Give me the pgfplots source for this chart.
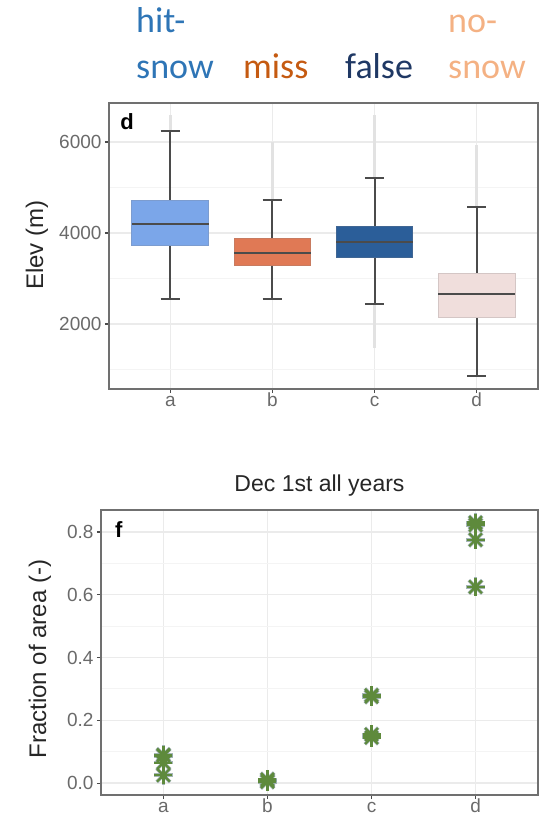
\documentclass[border=0pt]{standalone}
\usepackage{fontspec}
\setmainfont{Liberation Sans}
\newfontfamily\headfont{Carlito}
\usepackage{pgfplots}
\usepackage{pgfplotstable}
\pgfplotsset{compat=1.18}

\definecolor{hitcol}{HTML}{2E75B6}
\definecolor{misscol}{HTML}{C55A11}
\definecolor{falsecol}{HTML}{1F3864}
\definecolor{nosnowcol}{HTML}{F4B183}
\definecolor{boxa}{HTML}{7BA6E9}
\definecolor{boxb}{HTML}{E07955}
\definecolor{boxc}{HTML}{2B5E99}
\definecolor{boxd}{HTML}{F0DEDC}
\definecolor{whisk}{HTML}{4B4B4B}
\definecolor{ticktext}{HTML}{6A6A6A}
\definecolor{framecol}{HTML}{707070}
\definecolor{gridmaj}{HTML}{EBEBEB}
\definecolor{gridmin}{HTML}{F4F4F4}
\definecolor{outl}{HTML}{E2E2E2}
\definecolor{starhalo}{HTML}{8EA4A6}
\definecolor{stargreen}{HTML}{5E8A3C}

% fraction of snow-covered area per class, one row per year
\pgfplotstableread{
cat frac
1 0.090
1 0.087
1 0.065
1 0.025
2 0.012
2 0.008
2 0.004
3 0.280
3 0.275
3 0.155
3 0.145
4 0.830
4 0.822
4 0.775
4 0.625
}\fracdata

\pgfplotsset{
  panel/.style={
    scale only axis,
    xmin=0.4, xmax=4.6,
    xtick={1,2,3,4},
    xticklabels={a,b,c,d},
    xtick pos=bottom, ytick pos=left,
    xmajorgrids, ymajorgrids, yminorgrids,
    major grid style={draw=gridmaj, line width=1.4pt},
    minor grid style={draw=gridmin, line width=0.9pt},
    axis line style={draw=framecol, line width=1.2pt},
    tick align=outside,
    major tick length=4pt,
    minor tick length=0pt,
    major tick style={draw=whisk, line width=1.1pt},
    tick label style={font=\fontsize{19}{19}\selectfont, text=ticktext},
    xticklabel style={text height=0.72em, text depth=0pt, yshift=-3pt},
    clip=false,
    unbounded coords=jump,
  },
  ylab/.style={every axis y label/.style={at={(axis description cs:#1)}, rotate=90,
    anchor=center, font=\fontsize{24}{24}\selectfont, text=black!85}},
  whisker/.style={draw=whisk, line width=2pt, forget plot},
  median/.style={draw=whisk, line width=2pt, forget plot},
  outlier/.style={draw=outl, line width=3pt, forget plot},
}

\begin{document}
\begin{tikzpicture}
\useasboundingbox (0pt,0pt) rectangle (548pt,830pt);

% upper panel: elevation distribution of each class
\begin{axis}[panel,
  at={(109pt,441pt)}, anchor=south west,
  width=429pt, height=286pt,
  ymin=571, ymax=6857,
  ytick={2000,4000,6000},
  yticklabels={2000,4000,6000},
  minor ytick={1000,3000,5000},
  ylabel={Elev (m)},
  ylab={-0.168,0.503},
]
  % outlying elevations beyond the whiskers
  \addplot[outlier] coordinates {(1,6260) (1,6593)};
  \addplot[outlier] coordinates {(2,4740) (2,6000)};
  \addplot[outlier] coordinates {(3,5220) (3,6593)};
  \addplot[outlier] coordinates {(3,2420) (3,1474)};
  \addplot[outlier] coordinates {(4,4580) (4,5934)};

  % whiskers with caps
  \addplot[whisker] coordinates {(1,4723) (1,6241) (nan,nan) (0.905,6241) (1.095,6241) (nan,nan)
    (1,3723) (1,2555) (nan,nan) (0.905,2555) (1.095,2555)};
  \addplot[whisker] coordinates {(2,3869) (2,4723) (nan,nan) (1.905,4723) (2.095,4723) (nan,nan)
    (2,3285) (2,2540) (nan,nan) (1.905,2540) (2.095,2540)};
  \addplot[whisker] coordinates {(3,4153) (3,5205) (nan,nan) (2.905,5205) (3.095,5205) (nan,nan)
    (3,3467) (3,2438) (nan,nan) (2.905,2438) (3.095,2438)};
  \addplot[whisker] coordinates {(4,3102) (4,4562) (nan,nan) (3.905,4562) (4.095,4562) (nan,nan)
    (4,2146) (4,847) (nan,nan) (3.905,847) (4.095,847)};

  % interquartile boxes
  \addplot[fill=boxa, draw=boxa!75!gray, line width=1pt, forget plot]
    coordinates {(0.625,3723) (1.375,3723) (1.375,4723) (0.625,4723)} --cycle;
  \addplot[fill=boxb, draw=boxb!75!gray, line width=1pt, forget plot]
    coordinates {(1.625,3285) (2.375,3285) (2.375,3869) (1.625,3869)} --cycle;
  \addplot[fill=boxc, draw=boxc!75!gray, line width=1pt, forget plot]
    coordinates {(2.625,3467) (3.375,3467) (3.375,4153) (2.625,4153)} --cycle;
  \addplot[fill=boxd, draw=boxd!75!gray, line width=1pt, forget plot]
    coordinates {(3.625,2146) (4.375,2146) (4.375,3102) (3.625,3102)} --cycle;

  % medians
  \addplot[median] coordinates {(0.625,4197) (1.375,4197)};
  \addplot[median] coordinates {(1.625,3555) (2.375,3555)};
  \addplot[median] coordinates {(2.625,3796) (3.375,3796)};
  \addplot[median] coordinates {(3.625,2664) (4.375,2664)};

  \node[anchor=base west, inner sep=0, font=\fontsize{22}{22}\selectfont\bfseries]
    at (rel axis cs:0.026,0.909) {d};
\end{axis}

% lower panel: fraction of area on 1 December of every year
\begin{axis}[panel,
  at={(101pt,35pt)}, anchor=south west,
  width=437pt, height=285pt,
  ymin=-0.038, ymax=0.87,
  ytick={0,0.2,0.4,0.6,0.8},
  yticklabels={0.0,0.2,0.4,0.6,0.8},
  minor ytick={0.1,0.3,0.5,0.7},
  ylabel={Fraction of area (-)},
  ylab={-0.140,0.477},
  title={Dec 1st all years},
  title style={at={(axis description cs:0.5,1)}, anchor=base, yshift=12pt,
    font=\fontsize{23}{23}\selectfont, text=black!85, inner sep=0pt},
]
  \addplot[only marks, mark=+, mark size=9.5pt, draw=starhalo, opacity=0.8,
    mark options={line width=3.6pt}] table[x=cat, y=frac] {\fracdata};
  \addplot[only marks, mark=x, mark size=9.5pt, draw=starhalo, opacity=0.8,
    mark options={line width=3.6pt}] table[x=cat, y=frac] {\fracdata};
  \addplot[only marks, mark=+, mark size=9pt, draw=stargreen,
    mark options={line width=2.2pt}] table[x=cat, y=frac] {\fracdata};
  \addplot[only marks, mark=x, mark size=9pt, draw=stargreen,
    mark options={line width=2.2pt}] table[x=cat, y=frac] {\fracdata};
  \addplot[only marks, mark=*, mark size=3.5pt,
    mark options={draw=stargreen, fill=stargreen, line width=0pt}]
    table[x=cat, y=frac] {\fracdata};

  \node[anchor=base west, inner sep=0, font=\fontsize{22}{22}\selectfont\bfseries]
    at (rel axis cs:0.032,0.905) {f};
\end{axis}

% class names above the panels
\begin{scope}[every node/.style={anchor=base west, inner sep=0,
    font=\headfont\fontsize{36}{36}\selectfont}]
  \node[text=hitcol] at (136pt,797pt) {hit-};
  \node[text=hitcol] at (136pt,751pt) {snow};
  \node[text=misscol] at (243pt,751pt) {miss};
  \node[text=falsecol] at (345pt,751pt) {false};
  \node[text=nosnowcol] at (448pt,797pt) {no-};
  \node[text=nosnowcol] at (448pt,751pt) {snow};
\end{scope}
\end{tikzpicture}
\end{document}
